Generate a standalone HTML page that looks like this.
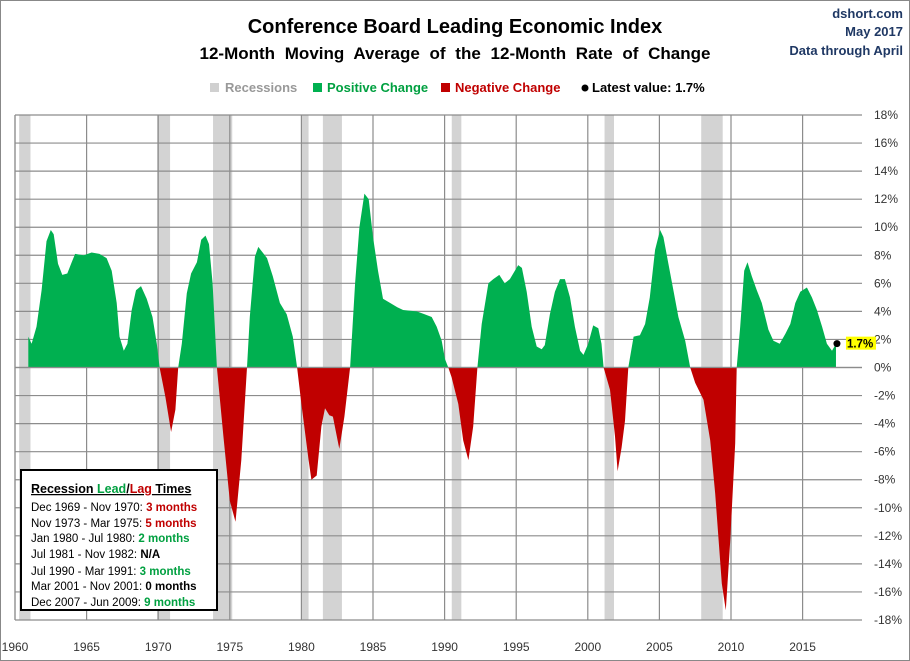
<!DOCTYPE html>
<html><head><meta charset="utf-8"><style>
html,body{margin:0;padding:0;background:#fff}
svg{display:block;font-family:"Liberation Sans",sans-serif}
</style></head><body>
<svg id="chart" width="910" height="661" viewBox="0 0 910 661">
<rect x="0.5" y="0.5" width="909" height="660" fill="#fff" stroke="#888"/>
<text x="455" y="33" text-anchor="middle" font-size="20" font-weight="bold">Conference Board Leading Economic Index</text>
<text x="455" y="59" text-anchor="middle" font-size="17" font-weight="bold" word-spacing="5">12-Month Moving Average of the 12-Month Rate of Change</text>
<g font-size="13" font-weight="bold" fill="#1f3864" text-anchor="end">
<text x="903" y="18">dshort.com</text><text x="903" y="36">May 2017</text><text x="903" y="55">Data through April</text></g>
<g font-size="13" font-weight="bold">
<g><rect x="210" y="83" width="9" height="9" fill="#d0d0d0"/><text x="225" y="92" fill="#999">Recessions</text></g>
<g><rect x="313" y="83" width="9" height="9" fill="#00b050"/><text x="327" y="92" fill="#00a040">Positive Change</text></g>
<g><rect x="441" y="83" width="9" height="9" fill="#c00000"/><text x="455" y="92" fill="#c00000">Negative Change</text></g>
<g><circle cx="585" cy="88" r="3.5" fill="#000"/><text x="592" y="92" fill="#000">Latest value: 1.7%</text></g>
</g>
<g id="bands"></g><g id="grid"></g><g id="areas"></g><g id="axes"></g>
<g>
<rect x="21" y="470" width="196" height="140" fill="#fff" stroke="#000" stroke-width="2"/>
<g font-size="11.5">
<text x="31" y="493" font-weight="bold" font-size="12.5" text-decoration="underline"><tspan>Recession </tspan><tspan fill="#00a040">Lead</tspan><tspan>/</tspan><tspan fill="#c00000">Lag</tspan><tspan> Times</tspan></text>
<text x="31" y="511">Dec 1969 - Nov 1970: <tspan fill="#c00000" font-weight="bold">3 months</tspan></text>
<text x="31" y="527">Nov 1973 - Mar 1975: <tspan fill="#c00000" font-weight="bold">5 months</tspan></text>
<text x="31" y="542">Jan 1980 - Jul 1980: <tspan fill="#00a040" font-weight="bold">2 months</tspan></text>
<text x="31" y="558">Jul 1981 - Nov 1982: <tspan font-weight="bold">N/A</tspan></text>
<text x="31" y="575">Jul 1990 - Mar 1991: <tspan fill="#00a040" font-weight="bold">3 months</tspan></text>
<text x="31" y="590">Mar 2001 - Nov 2001: <tspan font-weight="bold">0 months</tspan></text>
<text x="31" y="606">Dec 2007 - Jun 2009: <tspan fill="#00a040" font-weight="bold">9 months</tspan></text>
</g></g>
<g id="latest"></g>
</svg>
<script>
const years=[1960.93,1961.16,1961.5,1961.86,1962.2,1962.5,1962.7,1963.0,1963.3,1963.65,1963.96,1964.2,1964.8,1965.35,1965.9,1966.4,1966.75,1967.1,1967.3,1967.6,1967.85,1968.15,1968.45,1968.8,1969.2,1969.6,1969.9,1970.1,1970.5,1970.9,1971.2,1971.4,1971.65,1972.0,1972.3,1972.7,1973.0,1973.3,1973.55,1973.8,1974.1,1974.55,1975.0,1975.4,1975.8,1976.2,1976.4,1976.75,1976.99,1977.6,1978.0,1978.5,1978.97,1979.4,1979.7,1980.0,1980.5,1980.7,1981.07,1981.4,1981.65,1981.95,1982.2,1982.65,1983.0,1983.4,1983.75,1984.05,1984.4,1984.7,1985.0,1985.35,1985.7,1986.2,1986.7,1987.1,1988.05,1988.6,1989.1,1989.45,1989.8,1990.03,1990.26,1990.49,1990.96,1991.3,1991.66,1992.0,1992.29,1992.59,1993.06,1993.4,1993.82,1994.2,1994.56,1995.14,1995.4,1995.73,1996.08,1996.43,1996.78,1997.0,1997.35,1997.7,1998.06,1998.4,1998.76,1999.1,1999.46,1999.7,2000.03,2000.38,2000.73,2000.96,2001.1,2001.55,2001.9,2002.08,2002.36,2002.6,2002.83,2003.2,2003.64,2004.0,2004.33,2004.7,2005.05,2005.28,2005.63,2005.98,2006.33,2006.8,2007.15,2007.5,2008.08,2008.55,2008.9,2009.36,2009.64,2009.94,2010.29,2010.4,2010.64,2010.92,2011.15,2011.45,2011.8,2012.15,2012.61,2012.96,2013.4,2013.8,2014.14,2014.49,2014.84,2015.3,2015.65,2016.0,2016.36,2016.7,2017.05,2017.33];
const values=[2.2,1.7,2.9,5.5,9.0,9.8,9.5,7.4,6.6,6.7,7.5,8.1,8.0,8.2,8.1,7.8,6.9,4.6,2.2,1.2,1.7,4.1,5.5,5.8,4.9,3.6,1.7,0,-2.1,-4.6,-3.0,0,1.7,5.3,6.7,7.5,9.1,9.4,8.8,6.0,0,-4.9,-9.5,-11.0,-6.6,0,3.6,7.9,8.6,7.8,6.5,4.6,3.8,2.2,0,-2.6,-6.6,-8.0,-7.7,-4.2,-2.9,-3.4,-3.5,-5.8,-3.5,0,6.0,10.0,12.4,12.0,9.3,6.9,4.9,4.6,4.3,4.1,4.0,3.8,3.6,2.9,1.9,0.6,0,-0.7,-2.6,-5.2,-6.6,-4.2,0,3.1,6.0,6.3,6.6,6.0,6.3,7.3,7.1,5.4,2.9,1.5,1.3,1.6,3.8,5.4,6.3,6.3,5.0,2.9,1.2,0.9,1.7,3.0,2.8,1.7,0,-1.6,-4.9,-7.4,-5.7,-3.8,0,2.2,2.3,3.1,5.0,8.4,9.8,9.3,7.4,5.5,3.6,1.9,0,-1.1,-2.3,-5.2,-9.0,-15.4,-17.3,-12.5,-5.4,0,2.9,6.9,7.5,6.5,5.5,4.6,2.7,1.9,1.7,2.4,3.1,4.6,5.4,5.7,5.0,4.1,2.9,1.7,1.2,1.7];
const recStart=[1960.29,1969.92,1973.83,1980.0,1981.5,1990.5,2001.17,2007.92];
const recEnd=[1961.08,1970.83,1975.17,1980.5,1982.83,1991.17,2001.83,2009.42];
const yTicks=[18,16,14,12,10,8,6,4,2,0,-2,-4,-6,-8,-10,-12,-14,-16,-18];
const xTicks=[1960,1965,1970,1975,1980,1985,1990,1995,2000,2005,2010,2015];
const latestValue=1.7;

const NS="http://www.w3.org/2000/svg";
const L=15,R=862,T=115,B=620;
const x=yr=>L+(yr-1960)*14.32;
const y=v=>T+(18-v)*(B-T)/36;
function mk(tag,attrs,parent){const e=document.createElementNS(NS,tag);for(const k in attrs)e.setAttribute(k,attrs[k]);parent.appendChild(e);return e;}
const bands=document.getElementById('bands'),grid=document.getElementById('grid'),areas=document.getElementById('areas'),axes=document.getElementById('axes');
recStart.forEach((s,i)=>{
  const r=mk('rect',{x:x(s),y:T,width:x(recEnd[i])-x(s),height:B-T,fill:'#d3d3d3'},bands);
  
  
});
yTicks.forEach(v=>{
  const l=mk('line',{x1:L,x2:R,y1:y(v),y2:y(v),stroke:'#8c8c8c','stroke-width':1.2},grid);
  
  
  const t=mk('text',{x:874,y:y(v)+4,'font-size':12,fill:'#333'},axes);
  t.textContent=v+'%';
  
  
});
xTicks.forEach(yr=>{
  const l=mk('line',{x1:x(yr),x2:x(yr),y1:T,y2:B,stroke:'#8c8c8c','stroke-width':1.2},grid);
  
  
  const t=mk('text',{x:x(yr),y:651,'font-size':12,fill:'#333','text-anchor':'middle'},axes);
  t.textContent=yr;
  
  
});
mk('line',{x1:L,x2:L,y1:T,y2:B,stroke:'#8c8c8c','stroke-width':1.2},grid);
let d='M'+x(years[0])+','+y(0);
years.forEach((yr,i)=>{d+=' L'+x(yr).toFixed(1)+','+y(values[i]).toFixed(1);});
d+=' L'+x(years[years.length-1])+','+y(0)+' Z';
const defs=mk('defs',{},areas);
const cp=mk('clipPath',{id:'pos'},defs);mk('rect',{x:0,y:0,width:910,height:y(0)},cp);
const cn=mk('clipPath',{id:'neg'},defs);mk('rect',{x:0,y:y(0),width:910,height:661},cn);
const pa=mk('path',{d:d,fill:'#00b050','clip-path':'url(#pos)'},areas);


const na=mk('path',{d:d,fill:'#c00000','clip-path':'url(#neg)'},areas);


mk('line',{x1:L,x2:R,y1:y(0),y2:y(0),stroke:'#8c8c8c','stroke-width':1.2},areas);
const lg=document.getElementById('latest');
const lx=x(years[years.length-1])+1;
const dot=mk('circle',{cx:lx,cy:y(latestValue),r:3.5,fill:'#000'},lg);


const bg=mk('rect',{x:lx+9,y:y(latestValue)-7,width:30,height:13,fill:'#ffff00'},lg);


const lt=mk('text',{x:lx+10,y:y(latestValue)+4,'font-size':11.5,'font-weight':'bold',fill:'#000'},lg);
lt.textContent=latestValue+'%';


</script>
</body></html>
